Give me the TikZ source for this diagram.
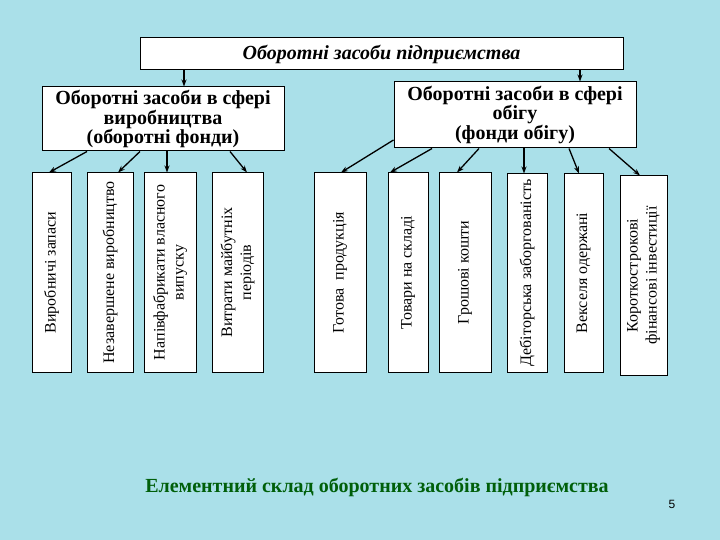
\documentclass[tikz,border=0pt]{standalone}
\usepackage{fontspec}
\setmainfont{Liberation Serif}
\setsansfont{Liberation Sans}
\usetikzlibrary{arrows.meta}
\definecolor{bgc}{RGB}{170,224,233}
\definecolor{capgreen}{RGB}{0,95,10}
\tikzset{
  hbox/.style={draw=black, line width=1pt, fill=white, inner sep=0pt, align=center,
    font=\fontsize{20}{18}\selectfont\bfseries},
  vbox/.style={draw=black, line width=1pt, fill=white, inner sep=0pt, align=center,
    rotate=90, minimum width=199pt, font=\fontsize{16}{19}\selectfont},
  arr/.style={line width=1.3pt, -{Stealth[length=7pt,width=5pt]}}
}
\begin{document}
\begin{tikzpicture}[x=1pt,y=-1pt]
\useasboundingbox (0,0) rectangle (720,540);
\fill[bgc] (0,0) rectangle (720,540);

\node[hbox, minimum width=483pt, minimum height=32pt,
  font=\fontsize{20}{20}\selectfont\bfseries\itshape] (top) at (381.5,54) {Оборотні засоби підприємства};
\node[hbox, minimum width=242pt, minimum height=64pt] (lbox) at (163,119)
  {Оборотні засоби в сфері\\виробництва\\(оборотні фонди)};
\node[hbox, minimum width=242pt, minimum height=66pt] (rbox) at (515,115)
  {Оборотні засоби в сфері\\обігу\\(фонди обігу)};

\node[vbox, minimum height=39pt] (b1) at (51.5,272.5) {Виробничі запаси};
\node[vbox, minimum height=46pt] (b2) at (110,272.5) {Незавершене виробництво};
\node[vbox, minimum height=52pt] (b3) at (170,272.5) {Напівфабрикати власного\\випуску};
\node[vbox, minimum height=51pt] (b4) at (237.5,272.5) {Витрати майбутніх\\періодів};
\node[vbox, minimum height=52pt] (b5) at (340,272.5) {Готова\ \ продукція};
\node[vbox, minimum height=40pt] (b6) at (408,272.5) {Товари на складі};
\node[vbox, minimum height=52pt] (b7) at (465,272.5) {Грошові кошти};
\node[vbox, minimum height=40pt, minimum width=198pt] (b8) at (527,273) {Дебіторська заборгованість};
\node[vbox, minimum height=39pt, minimum width=198pt] (b9) at (583.5,273) {Векселя одержані};
\node[vbox, minimum height=47pt] (b10) at (643.5,275.5) {Короткострокові\\фінансові інвестиції};

\draw[arr] (184,0 |- top.south) -- (184,0 |- lbox.north);
\draw[arr] (580,0 |- top.south) -- (580,0 |- rbox.north);

\draw[arr] (87,0 |- lbox.south) -- (49,0 |- b1.east);
\draw[arr] (140,0 |- lbox.south) -- (118,0 |- b2.east);
\draw[arr] (167,0 |- lbox.south) -- (167,0 |- b3.east);
\draw[arr] (230,0 |- lbox.south) -- (247,0 |- b4.east);

\draw[arr] (rbox.west |- 0,140) -- (341,0 |- b5.east);
\draw[arr] (432,0 |- rbox.south) -- (390,0 |- b6.east);
\draw[arr] (479,0 |- rbox.south) -- (457,0 |- b7.east);
\draw[arr] (524,0 |- rbox.south) -- (524,0 |- b8.east);
\draw[arr] (569,0 |- rbox.south) -- (579,0 |- b9.east);
\draw[arr] (609,0 |- rbox.south) -- (640,0 |- b10.east);

\node[text=capgreen, font=\fontsize{20}{22}\selectfont\bfseries, inner sep=0pt] (cap) at (377,487)
  {Елементний склад оборотних засобів підприємства};
\node[font=\sffamily\fontsize{12}{13}\selectfont, inner sep=0pt] (pg) at (672,504) {5};
\end{tikzpicture}
\end{document}
